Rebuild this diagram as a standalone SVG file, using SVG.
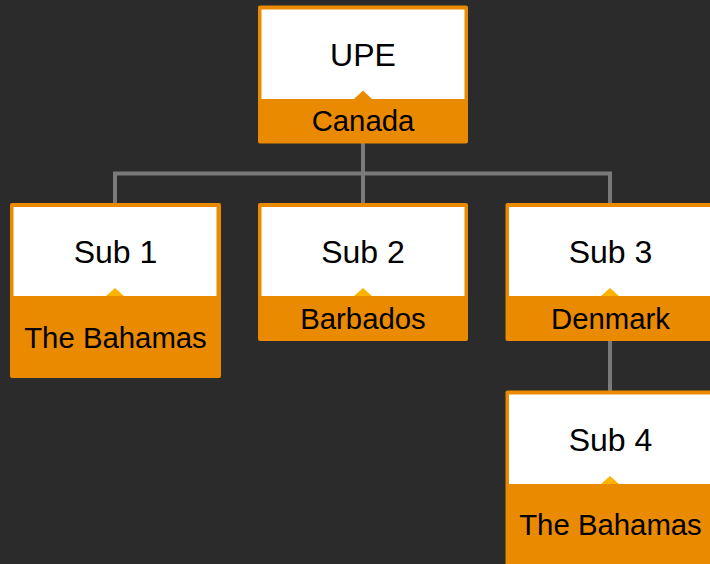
<svg xmlns="http://www.w3.org/2000/svg" width="710" height="564" viewBox="0 0 710 564">
<style>
.outer{fill:#ea8a00}
.inner{fill:#ffffff}
.tri{fill:#ffb300}
.tri0{fill:#ea8a00}
.t{font-family:"Liberation Sans",Arial,sans-serif;font-size:32px;fill:#000;text-anchor:middle}
.b{font-family:"Liberation Sans",Arial,sans-serif;font-size:29.33px;fill:#000;text-anchor:middle}
.c{stroke:#7a7a7a;stroke-width:4;fill:none}
</style>
<rect width="710" height="564" fill="#2b2b2b"/>
<g id="connectors">
<path class="c" d="M363 143V173.5M115 203V173.5H610V203M363 173.5V203M610 341V391"/>
</g>
<g id="upe">
<rect class="outer" x="258" y="5.5" width="210" height="138" rx="2"/>
<rect class="inner" x="261.5" y="9.5" width="203" height="89.5"/>
<polygon class="tri0" points="354,99 363,90.5 372,99"/>
<text class="t" x="363" y="66">UPE</text>
<text class="b" x="363" y="131">Canada</text>
</g>
<g id="sub1">
<rect class="outer" x="10" y="203" width="211" height="175" rx="2"/>
<rect class="inner" x="13.5" y="207" width="203" height="89"/>
<polygon class="tri" points="106,296 115,288 124,296"/>
<text class="t" x="115.5" y="263">Sub 1</text>
<text class="b" x="115.5" y="348">The Bahamas</text>
</g>
<g id="sub2">
<rect class="outer" x="258" y="203" width="210" height="138" rx="2"/>
<rect class="inner" x="261.5" y="207" width="203" height="89"/>
<polygon class="tri" points="354,296 363,288 372,296"/>
<text class="t" x="363" y="263">Sub 2</text>
<text class="b" x="363" y="329">Barbados</text>
</g>
<g id="sub3">
<rect class="outer" x="505.5" y="203" width="210" height="138" rx="2"/>
<rect class="inner" x="509" y="207" width="203" height="89"/>
<polygon class="tri" points="601,296 610,288 619,296"/>
<text class="t" x="610.5" y="263">Sub 3</text>
<text class="b" x="610.5" y="329">Denmark</text>
</g>
<g id="sub4">
<rect class="outer" x="505.5" y="390.5" width="210" height="175" rx="2"/>
<rect class="inner" x="509" y="394.5" width="203" height="89.5"/>
<polygon class="tri" points="601,484 610,476 619,484"/>
<text class="t" x="610.5" y="451">Sub 4</text>
<text class="b" x="610.5" y="535">The Bahamas</text>
</g>
</svg>
